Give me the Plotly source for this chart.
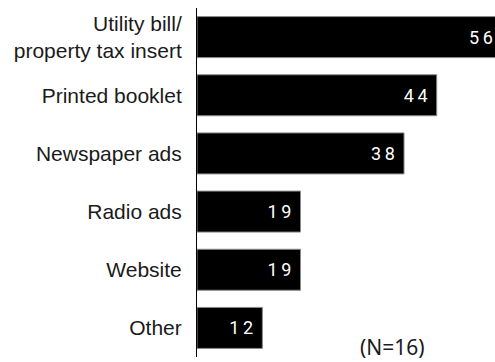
import plotly.graph_objects as go

# Information sources used by respondents (%)
categories = [
    "Utility bill/<br>property tax insert",
    "Printed booklet",
    "Newspaper ads",
    "Radio ads",
    "Website",
    "Other",
]
values = [56, 44, 38, 19, 19, 12]
sample_note = "(N=16)"

# spaced digits, with a little trailing room before the bar end
labels = ["\u2009".join(str(v)) + "\u2004" for v in values]

fig = go.Figure()
fig.add_trace(go.Bar(
    y=categories,
    x=values,
    orientation="h",
    marker=dict(color="#000000", line=dict(color="#8a8a8a", width=1)),
    text=labels,
    textposition="inside",
    insidetextanchor="end",
    textangle=0,
    constraintext="none",
    insidetextfont=dict(family="Roboto, sans-serif", size=18, color="#ffffff"),
    hoverinfo="skip",
))

fig.update_layout(
    width=495,
    height=362,
    margin=dict(l=197, r=0, t=8, b=5),
    paper_bgcolor="#ffffff",
    plot_bgcolor="#ffffff",
    bargap=0.295,
    showlegend=False,
    xaxis=dict(range=[0, 54.7], visible=False, fixedrange=True),
    yaxis=dict(
        autorange="reversed",
        showline=True,
        linecolor="#000000",
        linewidth=1,
        showgrid=False,
        ticks="",
        ticklabelstandoff=10,
        tickfont=dict(family="Liberation Sans, Arial, sans-serif", size=21, color="#1a1a1a"),
        fixedrange=True,
    ),
    annotations=[dict(
        text=sample_note,
        xref="paper", yref="paper",
        x=0.655, y=0.0, xanchor="center", yanchor="bottom",
        yshift=-6,
        showarrow=False,
        font=dict(family="Noto Sans, Open Sans, sans-serif", size=21, color="#1a1a1a"),
    )],
)

fig.write_html("out.html")
